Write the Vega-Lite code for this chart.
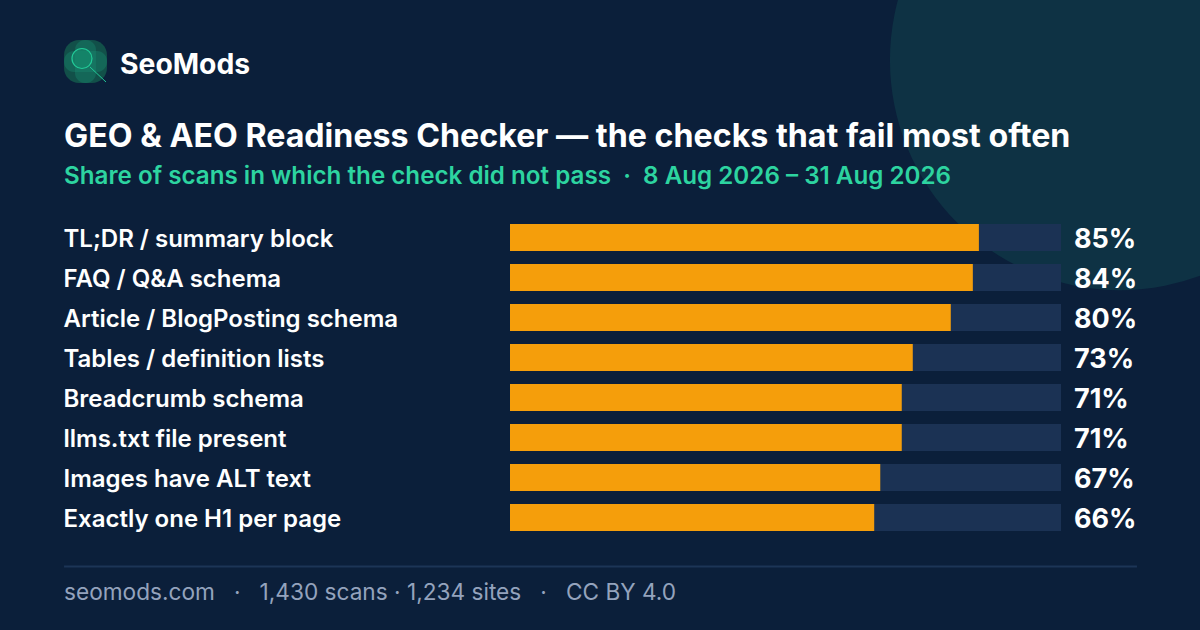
{
  "$schema": "https://vega.github.io/schema/vega-lite/v6.json",
  "background": "#0b1f3a",
  "width": 551,
  "height": 320,
  "autosize": {"type": "none"},
  "padding": {"left": 510, "top": 217.5, "right": 139, "bottom": 92.5},
  "view": {"stroke": null},
  "datasets": {
    "checks": [
      {"check": "TL;DR / summary block", "share": 85.1, "label": "85%"},
      {"check": "FAQ / Q&A schema", "share": 84, "label": "84%"},
      {"check": "Article / BlogPosting schema", "share": 80, "label": "80%"},
      {"check": "Tables / definition lists", "share": 73.1, "label": "73%"},
      {"check": "Breadcrumb schema", "share": 71.1, "label": "71%"},
      {"check": "llms.txt file present", "share": 71.1, "label": "71%"},
      {"check": "Images have ALT text", "share": 67.2, "label": "67%"},
      {"check": "Exactly one H1 per page", "share": 66.1, "label": "66%"}
    ],
    "shape": [{"name": "decor"}]
  },
  "layer": [
    {
      "data": {"name": "shape"},
      "layer": [
        {
          "mark": {"type": "point", "filled": true, "size": 211600, "color": "#0e3244", "opacity": 1},
          "encoding": {
            "x": {"datum": 110.7, "type": "quantitative", "scale": {"domain": [0, 100], "nice": false}, "axis": null},
            "y": {"datum": 1.492, "type": "quantitative", "scale": {"domain": [0, 1], "nice": false}, "axis": null}
          }
        },
        {
          "mark": {"type": "rect", "color": "#125049", "cornerRadius": 15},
          "encoding": {
            "x": {"datum": -80.94, "type": "quantitative", "axis": null},
            "x2": {"datum": -73.14},
            "y": {"datum": 1.5547, "type": "quantitative", "axis": null},
            "y2": {"datum": 1.4203}
          }
        },
        {
          "mark": {"type": "rect", "color": "#1a8a70", "opacity": 0.4, "cornerRadius": 10},
          "encoding": {
            "x": {"datum": -80.94, "type": "quantitative", "axis": null},
            "x2": {"datum": -73.14},
            "y": {"datum": 1.5203, "type": "quantitative", "axis": null},
            "y2": {"datum": 1.4547}
          }
        },
        {
          "mark": {"type": "rect", "color": "#1a8a70", "opacity": 0.4, "cornerRadius": 10},
          "encoding": {
            "x": {"datum": -78.95, "type": "quantitative", "axis": null},
            "x2": {"datum": -75.14},
            "y": {"datum": 1.5547, "type": "quantitative", "axis": null},
            "y2": {"datum": 1.4203}
          }
        },
        {
          "mark": {"type": "point", "filled": true, "size": 400, "color": "#14906f", "stroke": "#22c997", "strokeWidth": 1.2, "fillOpacity": 0.55, "strokeOpacity": 1},
          "encoding": {
            "x": {"datum": -77.68, "type": "quantitative", "axis": null},
            "y": {"datum": 1.4969, "type": "quantitative", "axis": null}
          }
        },
        {
          "mark": {"type": "rule", "color": "#22c997", "strokeWidth": 1},
          "encoding": {
            "x": {"datum": -76.22, "type": "quantitative", "axis": null},
            "x2": {"datum": -73.32},
            "y": {"datum": 1.4703, "type": "quantitative", "axis": null},
            "y2": {"datum": 1.4234}
          }
        },
        {
          "mark": {"type": "rule", "color": "#1c3556", "strokeWidth": 2},
          "encoding": {
            "x": {"datum": -80.94, "type": "quantitative", "axis": null},
            "x2": {"datum": 113.79},
            "y": {"datum": -0.0906, "type": "quantitative", "axis": null}
          }
        },
        {
          "mark": {"type": "text", "align": "left", "baseline": "alphabetic", "font": "Inter", "fontSize": 28.3, "fontWeight": 700, "color": "#ffffff", "text": "SeoMods"},
          "encoding": {
            "x": {"datum": -70.78, "type": "quantitative", "axis": null},
            "y": {"datum": 1.4484, "type": "quantitative", "axis": null}
          }
        },
        {
          "mark": {"type": "text", "align": "left", "baseline": "alphabetic", "font": "Inter", "fontSize": 32.2, "fontWeight": 700, "color": "#ffffff", "text": "GEO & AEO Readiness Checker — the checks that fail most often"},
          "encoding": {
            "x": {"datum": -80.94, "type": "quantitative", "axis": null},
            "y": {"datum": 1.2203, "type": "quantitative", "axis": null}
          }
        },
        {
          "mark": {"type": "text", "align": "left", "baseline": "alphabetic", "font": "Inter", "fontSize": 24.2, "fontWeight": 600, "color": "#2dd4a0", "text": "Share of scans in which the check did not pass\u00a0\u00a0·\u00a0\u00a08 Aug 2026 – 31 Aug 2026"},
          "encoding": {
            "x": {"datum": -80.94, "type": "quantitative", "axis": null},
            "y": {"datum": 1.1047, "type": "quantitative", "axis": null}
          }
        },
        {
          "mark": {"type": "text", "align": "left", "baseline": "alphabetic", "font": "Inter", "fontSize": 22.65, "fontWeight": 400, "color": "#94a3bd", "text": "seomods.com\u00a0\u00a0\u00a0·\u00a0\u00a0\u00a01,430 scans · 1,234 sites\u00a0\u00a0\u00a0·\u00a0\u00a0\u00a0CC BY 4.0"},
          "encoding": {
            "x": {"datum": -80.94, "type": "quantitative", "axis": null},
            "y": {"datum": -0.1953, "type": "quantitative", "axis": null}
          }
        }
      ]
    },
    {
      "data": {"name": "checks"},
      "layer": [
        {
          "mark": {"type": "bar", "color": "#1b3254"},
          "encoding": {
            "y": {
              "field": "check",
              "type": "nominal",
              "sort": null,
              "scale": {"paddingInner": 0.325, "paddingOuter": 0.1625},
              "axis": {
                "title": null,
                "domain": false,
                "ticks": false,
                "grid": false,
                "labelAlign": "left",
                "labelPadding": 447,
                "labelOffset": 2,
                "labelFont": "Inter",
                "labelFontSize": 24,
                "labelFontWeight": 600,
                "labelColor": "#ffffff",
                "labelLimit": 440
              }
            },
            "x": {"datum": 100, "type": "quantitative", "axis": null}
          }
        },
        {
          "mark": {"type": "bar", "color": "#f59e0b"},
          "encoding": {
            "y": {"field": "check", "type": "nominal", "sort": null},
            "x": {"field": "share", "type": "quantitative", "axis": null}
          }
        },
        {
          "mark": {"type": "text", "align": "left", "dx": 13, "dy": 2, "font": "Inter", "fontSize": 27, "fontWeight": 700, "color": "#ffffff"},
          "encoding": {
            "y": {"field": "check", "type": "nominal", "sort": null},
            "x": {"datum": 100, "type": "quantitative", "axis": null},
            "text": {"field": "label"}
          }
        }
      ]
    }
  ],
  "resolve": {"scale": {"y": "independent"}}
}
